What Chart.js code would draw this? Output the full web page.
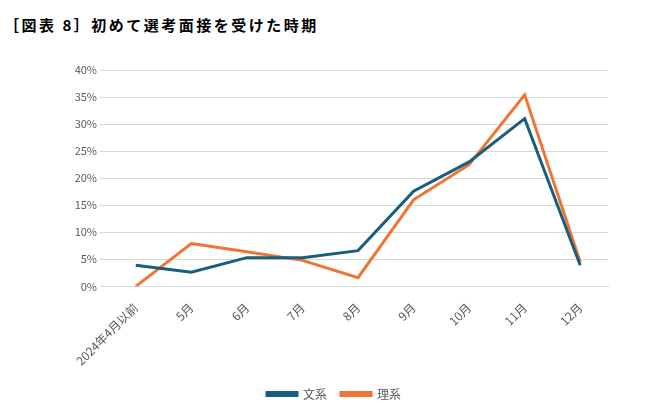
<!DOCTYPE html>
<html><head><meta charset="utf-8">
<script src="https://cdn.jsdelivr.net/npm/chart.js@4"></script>
<style>
body{margin:0;background:#fff;width:646px;height:414px;overflow:hidden;font-family:"Noto Sans CJK JP";}
#t{position:absolute;left:4px;top:14px;font-size:15px;letter-spacing:2.5px;color:#000;font-weight:bold;}
#w{position:absolute;left:0;top:40px;width:646px;height:374px;}
</style></head><body>
<div id="t">［図表 8］初めて選考面接を受けた時期</div>
<div id="w"><canvas id="c"></canvas></div>
<script>
const categories=["2024年4月以前","5月","6月","7月","8月","9月","10月","11月","12月"];
const bunkei=[3.9,2.6,5.3,5.3,6.6,17.6,23.0,31.0,3.9];
const rikei=[0,7.9,6.4,4.8,1.6,16.0,22.5,35.4,4.5];
Chart.defaults.font.family='"Noto Sans CJK JP"';
new Chart(document.getElementById('c'),{type:'line',
data:{labels:categories,datasets:[
{label:'文系',data:bunkei,borderColor:'#1A5E7E',backgroundColor:'#1A5E7E',borderWidth:3,pointRadius:0,tension:0},
{label:'理系',data:rikei,borderColor:'#EE7634',backgroundColor:'#EE7634',borderWidth:3,pointRadius:0,tension:0}]},
options:{responsive:true,maintainAspectRatio:false,animation:false,
layout:{padding:{left:60,right:38,top:30,bottom:4}},
plugins:{legend:{position:'bottom',labels:{boxWidth:30,boxHeight:3,color:'#595959',font:{size:12},padding:14}},tooltip:{enabled:false}},
scales:{x:{offset:true,grid:{display:false},border:{color:'#d9d9d9'},ticks:{color:'#595959',font:{size:12},maxRotation:45,minRotation:45,padding:6}},
y:{min:0,max:40,afterFit:s=>{s.width=48;},ticks:{stepSize:5,color:'#595959',font:{size:11},callback:v=>v+'%'},grid:{color:'#d9d9d9'},border:{display:false}}}}});
</script></body></html>
